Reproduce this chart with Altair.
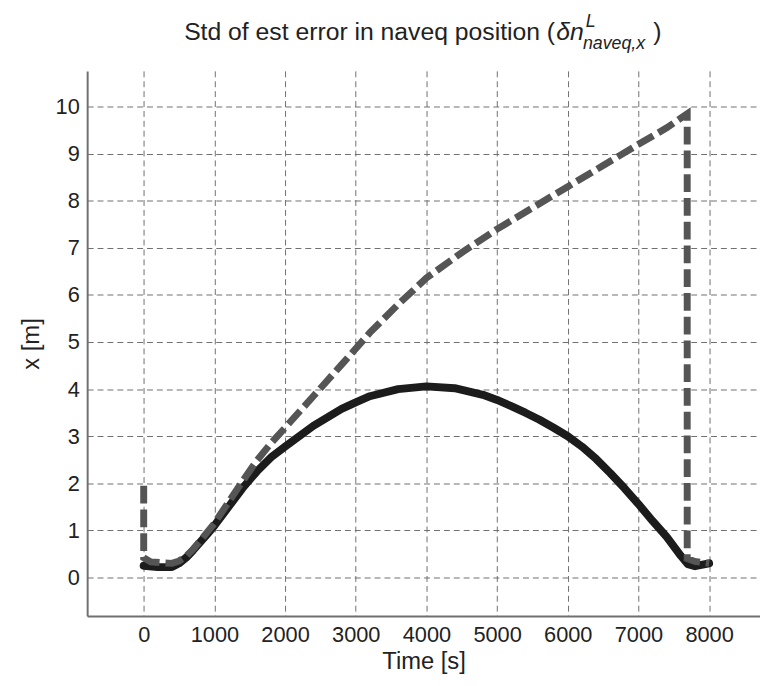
import altair as alt
import pandas as pd

# ---- data ----
solid_t = [0, 200, 400, 500, 600, 700, 800, 900, 1000, 1200, 1400, 1600, 1800, 2000,
           2400, 2800, 3000, 3200, 3600, 4000, 4400, 4800, 5000, 5200, 5400, 5600, 5800, 6000,
           6200, 6400, 6600, 6800, 7000, 7200, 7400, 7600, 7700, 7800, 8000]
solid_v = [0.25, 0.22, 0.22, 0.30, 0.42, 0.58, 0.75, 0.92, 1.10, 1.50, 1.90, 2.25, 2.55, 2.78,
           3.22, 3.58, 3.72, 3.85, 4.00, 4.06, 4.02, 3.88, 3.77, 3.64, 3.50, 3.35, 3.18, 3.00,
           2.78, 2.52, 2.22, 1.90, 1.56, 1.20, 0.86, 0.46, 0.28, 0.24, 0.30]

dash_t = [0, 0, 100, 400, 500, 600, 700, 800, 1000, 1200, 1400, 1600, 1800, 2000,
          2400, 2800, 3200, 3600, 4000, 4500, 5000, 5500, 6000, 6500, 7000, 7400,
          7690, 7690, 7800, 8000]
dash_v = [1.95, 0.42, 0.33, 0.30, 0.35, 0.45, 0.60, 0.78, 1.15, 1.60, 2.05, 2.48, 2.85, 3.18,
          3.85, 4.52, 5.20, 5.80, 6.36, 6.90, 7.40, 7.85, 8.30, 8.75, 9.20, 9.55,
          9.85, 0.40, 0.34, 0.30]

x_ticks = [0, 1000, 2000, 3000, 4000, 5000, 6000, 7000, 8000]
y_ticks = [0, 1, 2, 3, 4, 5, 6, 7, 8, 9, 10]

title_main = ["Std of est error in naveq position ("]
title_sym = ["δn"]
title_sup = ["L"]
title_sub = ["naveq,x"]
title_end = [")"]
x_title = "Time [s]"
y_title = "x [m]"

FONT = "Liberation Sans"

df_solid = pd.DataFrame({"t": solid_t, "v": solid_v, "o": list(range(len(solid_t)))})
df_dash = pd.DataFrame({"t": dash_t, "v": dash_v, "o": list(range(len(dash_t)))})

xs = alt.Scale(domain=[-800, 8720], nice=False, zero=False)
ys = alt.Scale(domain=[-0.82, 10.76], nice=False, zero=False)

x_axis = alt.Axis(values=x_ticks, title=x_title, format="d", labelPadding=9, titlePadding=4)
y_axis = alt.Axis(values=y_ticks, title=y_title, format="d", labelPadding=8, titlePadding=12)

solid = alt.Chart(df_solid).mark_line(
    color="#1c1c1c", strokeWidth=8, strokeJoin="round", strokeCap="round"
).encode(
    x=alt.X("t:Q", scale=xs, axis=x_axis),
    y=alt.Y("v:Q", scale=ys, axis=y_axis),
    order="o:Q",
)

dashed = alt.Chart(df_dash).mark_line(
    color="#555555", strokeWidth=7, strokeDash=[18, 6], strokeCap="butt", strokeJoin="miter"
).encode(
    x=alt.X("t:Q", scale=xs),
    y=alt.Y("v:Q", scale=ys),
    order="o:Q",
)


def txt(values, x, y, size, italic=False):
    return alt.Chart(pd.DataFrame({"s": values})).mark_text(
        align="left", baseline="alphabetic", font=FONT, fontSize=size,
        fontStyle="italic" if italic else "normal", color="#222222"
    ).encode(x=alt.value(x), y=alt.value(y), text="s:N")


t1 = txt(title_main, 98, -31, 25)
t2 = txt(title_sym, 474, -31, 25, italic=True)
t3 = txt(title_sup, 504, -44, 18, italic=True)
t4 = txt(title_sub, 501, -22, 18, italic=True)
t5 = txt(title_end, 572, -31, 25)

chart = alt.layer(solid, dashed, t1, t2, t3, t4, t5).properties(
    width=680,
    height=551,
    autosize=alt.AutoSizeParams(type="none"),
    padding={"left": 80, "top": 60, "right": 0, "bottom": 58},
).configure_axis(
    labelFont=FONT,
    labelFontSize=22,
    labelColor="#222222",
    titleFont=FONT,
    titleFontSize=24,
    titleFontWeight="normal",
    titleColor="#222222",
    domainColor="#707070",
    domainWidth=2,
    ticks=False,
    grid=True,
    gridColor="#6f6f6f",
    gridDash=[6, 4],
    gridWidth=1,
    gridOpacity=1,
).configure_view(strokeWidth=0)

chart.save("out.html", embed_options={"renderer": "svg", "actions": False})
